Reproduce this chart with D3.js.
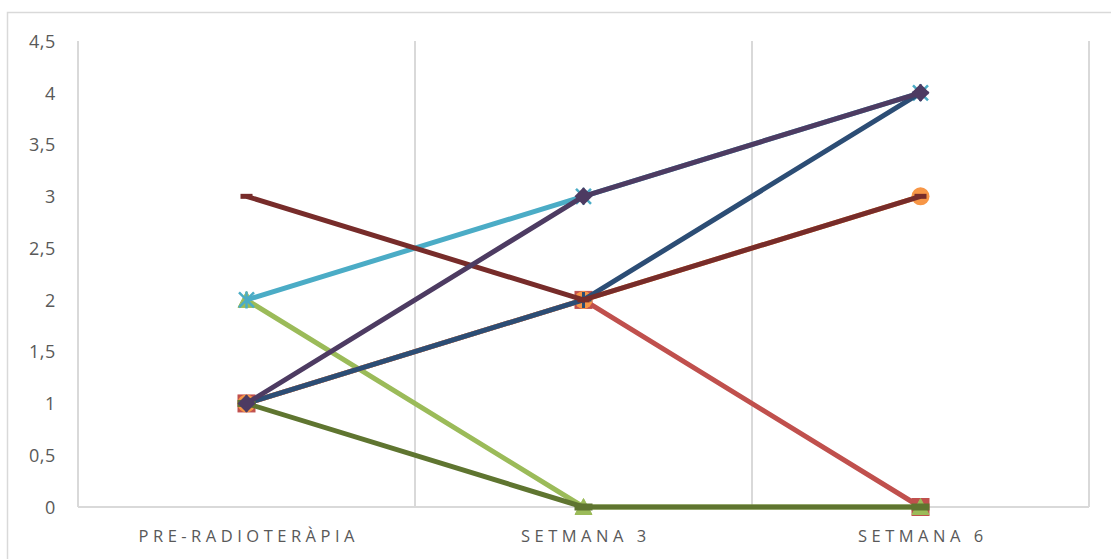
<!DOCTYPE html>
<html><head><meta charset="utf-8">
<script src="https://cdn.jsdelivr.net/npm/d3@7"></script>
<style>
html,body{margin:0;padding:0;background:#fff;}
svg{display:block;}
</style></head>
<body>
<svg id="chart" width="1111" height="559"></svg>
<script>
const categories = ["PRE-RADIOTERÀPIA", "SETMANA 3", "SETMANA 6"];
const yTicks = [0, 0.5, 1, 1.5, 2, 2.5, 3, 3.5, 4, 4.5];
const seriesRed = [1, 2, 0];
const seriesGreen = [2, 0, 0];
const seriesAqua = [2, 3, 4];
const seriesOrange = [1, 2, 3];
const seriesDarkBlue = [1, 2, 4];
const seriesDarkRed = [3, 2, 3];
const seriesDarkGreen = [1, 0, 0];
const seriesDarkPurple = [1, 3, 4];

const series = [
  {values: seriesRed, color: "#C0504D", marker: "square"},
  {values: seriesGreen, color: "#9BBB59", marker: "triangle"},
  {values: seriesAqua, color: "#4BACC6", marker: "star"},
  {values: seriesOrange, color: "#F79646", marker: "circle"},
  {values: seriesDarkBlue, color: "#2C4D75", marker: "plus"},
  {values: seriesDarkRed, color: "#772C2A", marker: "dash"},
  {values: seriesDarkGreen, color: "#5F7530", marker: "longdash"},
  {values: seriesDarkPurple, color: "#4D3B62", marker: "diamond"}
];

const svg = d3.select("#chart");
const L = 78, R = 1089, T = 41, B = 507;
const grid = "#d9d9d9", textCol = "#595959";

// outer chart border
svg.append("rect").attr("x", 7.5).attr("y", 12.5).attr("width", 1120).attr("height", 560)
  .attr("fill", "none").attr("stroke", grid).attr("stroke-width", 1.5);

const x = d3.scaleBand().domain(categories).range([L, R]);
const y = d3.scaleLinear().domain([0, 4.5]).range([B, T]);
const cx = c => x(c) + x.bandwidth() / 2;

// vertical category gridlines
svg.append("g").selectAll("line").data(categories).enter().append("line")
  .attr("x1", d => x(d) + x.bandwidth()).attr("x2", d => x(d) + x.bandwidth())
  .attr("y1", T).attr("y2", B).attr("stroke", grid).attr("stroke-width", 2);
// left axis line
svg.append("line").attr("x1", L).attr("x2", L).attr("y1", T).attr("y2", B)
  .attr("stroke", grid).attr("stroke-width", 2);
// bottom axis line
svg.append("line").attr("x1", L).attr("x2", R).attr("y1", B).attr("y2", B)
  .attr("stroke", grid).attr("stroke-width", 2);

// y axis labels
const yAxis = d3.axisLeft(y).tickValues(yTicks).tickSize(0).tickPadding(22)
  .tickFormat(d => String(d).replace(".", ","));
const gy = svg.append("g").attr("transform", `translate(${L},0)`).call(yAxis);
gy.select(".domain").remove();
gy.selectAll("text").attr("font-family", "'Open Sans', sans-serif").attr("font-size", 18)
  .attr("fill", textCol).attr("dy", "0.35em").attr("letter-spacing", 0.6);

// x axis labels
const ls = 4.5;
const xAxis = d3.axisBottom(x).tickSize(0);
const gx = svg.append("g").attr("transform", `translate(0,${B})`).call(xAxis);
gx.select(".domain").remove();
gx.selectAll("text").attr("font-family", "'Open Sans', sans-serif").attr("font-size", 16.5)
  .attr("fill", textCol).attr("y", 35).attr("dy", 0)
  .attr("letter-spacing", ls).attr("dx", ls / 2);

// series
const line = d3.line().x((d, i) => cx(categories[i])).y(d => y(d));

function drawMarker(g, type, color, px, py) {
  const m = g.append("g").attr("transform", `translate(${px},${py})`);
  if (type === "square") {
    m.append("rect").attr("x", -8.5).attr("y", -8.5).attr("width", 17).attr("height", 17)
      .attr("fill", color).attr("stroke", color);
  } else if (type === "triangle") {
    m.append("path").attr("d", "M0,-8.5 L8.5,7.5 L-8.5,7.5 Z").attr("fill", color).attr("stroke", color);
  } else if (type === "circle") {
    m.append("circle").attr("r", 9).attr("fill", color);
  } else if (type === "diamond") {
    m.append("path").attr("d", "M0,-9 L9,0 L0,9 L-9,0 Z").attr("fill", color);
  } else if (type === "star") {
    m.append("path").attr("d", "M-7.5,-7.5 L7.5,7.5 M-7.5,7.5 L7.5,-7.5 M0,-8.5 L0,8.5")
      .attr("stroke", color).attr("stroke-width", 2.5).attr("fill", "none");
  } else if (type === "plus") {
    m.append("path").attr("d", "M-8,0 L8,0 M0,-8 L0,8")
      .attr("stroke", color).attr("stroke-width", 3).attr("fill", "none");
  } else if (type === "dash") {
    m.append("rect").attr("x", -6).attr("y", -2.5).attr("width", 12).attr("height", 5)
      .attr("fill", color);
  } else if (type === "longdash") {
    m.append("rect").attr("x", -9).attr("y", -3.5).attr("width", 18).attr("height", 7)
      .attr("fill", color);
  }
}

const gs = svg.append("g");
series.forEach(s => {
  const g = gs.append("g");
  g.append("path").attr("d", line(s.values)).attr("fill", "none")
    .attr("stroke", s.color).attr("stroke-width", 5).attr("stroke-linejoin", "round");
  s.values.forEach((v, i) => drawMarker(g, s.marker, s.color, cx(categories[i]), y(v)));
});
</script>
</body></html>
